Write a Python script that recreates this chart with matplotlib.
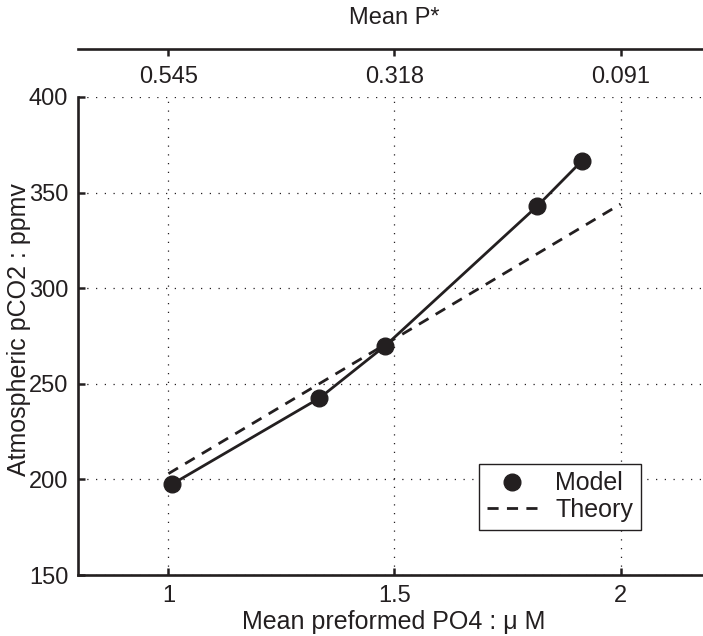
import matplotlib
matplotlib.use("Agg")
import matplotlib.pyplot as plt

plt.rcParams['font.family'] = ['Liberation Sans', 'DejaVu Sans']

# Data
model_x = [1.008, 1.334, 1.48, 1.816, 1.915]
model_y = [197.5, 242.5, 270.0, 343.0, 366.7]
theory_x = [1.0, 1.5, 2.0]
theory_y = [203.0, 273.5, 344.0]
bottom_ticks = [1, 1.5, 2]
bottom_ticklabels = ["1", "1.5", "2"]
top_ticklabels = ["0.545", "0.318", "0.091"]
y_ticks = [150, 200, 250, 300, 350, 400]

K = '#231f20'
FS = 17
LFS = 18

W, H = 703, 636
fig = plt.figure(figsize=(W / 100, H / 100), dpi=100)

left_px, right_px = 78, 711
top_px, bottom_px = 97, 575
ax = fig.add_axes([left_px / W, 1 - bottom_px / H,
                   (right_px - left_px) / W, (bottom_px - top_px) / H])
ax.set_xlim(0.8, 2.2)
ax.set_ylim(150, 400)

ax.plot(model_x, model_y, '-', color=K, lw=2.0, zorder=3)
ax.plot(model_x, model_y, 'o', color=K, ms=12, label='Model', zorder=4)
ax.plot(theory_x, theory_y, color=K, lw=2.0, linestyle=(0, (4, 3)),
        label='Theory', zorder=3)

ax.set_xticks(bottom_ticks)
ax.set_xticklabels(bottom_ticklabels)
ax.set_yticks(y_ticks)
ax.tick_params(direction='in', length=5, width=1.8, labelsize=FS,
               colors=K, pad=7)
for s in ['top', 'right']:
    ax.spines[s].set_visible(False)
for s in ['left', 'bottom']:
    ax.spines[s].set_linewidth(1.9)
    ax.spines[s].set_color(K)
    ax.spines[s].set_capstyle('projecting')
ax.grid(True, linestyle=(0, (1, 6)), lw=0.9, color=K)

leg = ax.legend(loc='upper left',
                bbox_to_anchor=(479 / W, 1 - 464 / H),
                bbox_transform=fig.transFigure,
                fontsize=LFS, frameon=True, fancybox=False,
                handlelength=2.0, handletextpad=0.75, labelspacing=0.1,
                borderpad=0.3, borderaxespad=0)
leg.get_frame().set_edgecolor(K)
leg.get_frame().set_linewidth(1.0)
leg.get_frame().set_alpha(1)
for t in leg.get_texts():
    t.set_color(K)

# Top axis
top_line_px = 49
ax2 = fig.add_axes([left_px / W, 1 - top_line_px / H,
                    (right_px - left_px) / W, 0.002])
ax2.set_xlim(0.8, 2.2)
ax2.set_ylim(0, 1)
ax2.patch.set_visible(False)
for s in ['top', 'left', 'right']:
    ax2.spines[s].set_visible(False)
ax2.spines['bottom'].set_linewidth(1.9)
ax2.spines['bottom'].set_color(K)
ax2.set_yticks([])
ax2.set_xticks(bottom_ticks)
ax2.set_xticklabels(top_ticklabels)
ax2.tick_params(axis='x', direction='out', length=5, width=1.8,
                labelsize=FS, colors=K, pad=7)

fig.text(394 / W, 1 - 18 / H, 'Mean P*', ha='center', va='center',
         fontsize=FS, color=K)
fig.text(394 / W, 1 - 622 / H, 'Mean preformed PO4 : \u03bc M',
         ha='center', va='center', fontsize=LFS, color=K)
fig.text(19 / W, 1 - 330 / H, 'Atmospheric pCO2 : ppmv', ha='center',
         va='center', rotation=90, fontsize=LFS, color=K)

fig.savefig('out.png', dpi=100)
